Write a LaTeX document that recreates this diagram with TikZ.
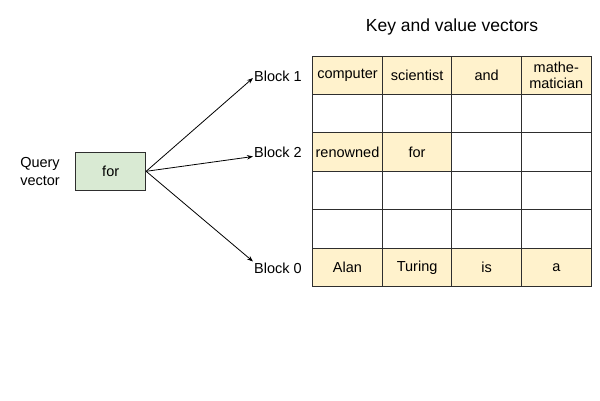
\documentclass[tikz,border=0pt]{standalone}
\usepackage{fontspec}
\setmainfont{Liberation Sans}
\usetikzlibrary{arrows.meta}

\definecolor{keyyellow}{HTML}{FFF2CC}
\definecolor{querygreen}{HTML}{D9EAD3}
\definecolor{gridline}{HTML}{2E2E2E}
\def\cellfont{\fontsize{14.5}{16.5}\selectfont}

\tikzset{
	cell/.style={draw=gridline, line width=0.9pt, minimum width=69.6pt, minimum height=38.45pt, inner sep=0pt, align=center, font=\cellfont},
	keycell/.style={cell, fill=keyyellow},
	blocklabel/.style={anchor=west, inner sep=1pt, font=\cellfont},
	pointer/.style={-{Stealth[length=6pt,width=4.5pt]}, line width=0.8pt}
}

\begin{document}
\begin{tikzpicture}[x=1pt, y=-1pt]
			%%%%% START %%%%%
			\useasboundingbox (0, 0) rectangle (600, 400);
			
			\node[font=\fontsize{17.5}{20}\selectfont] (title) at (452, 27) {Key and value vectors};
			
			% block 1
			\foreach \word [count=\c] in {computer, scientist, and, {mathe-\\matician}}
				\node[keycell] (r1c\c) at ({312.7+69.6*(\c-0.5)}, 75.2) {\word};
			
			% block 2
			\node[keycell] (r3c1) at (347.5, 152.1) {renowned};
			\node[keycell] (r3c2) at (417.1, 152.1) {for};
			\node[cell] (r3c3) at (486.7, 152.1) {};
			\node[cell] (r3c4) at (556.3, 152.1) {};
			
			% empty rows
			\foreach \r in {2, 4, 5}
				\foreach \c in {1, ..., 4}
					\node[cell] (r\r c\c) at ({312.7+69.6*(\c-0.5)}, {56+38.45*(\r-0.5)}) {};
			
			% block 0
			\foreach \word [count=\c] in {Alan, Turing, is, a}
				\node[keycell] (r6c\c) at ({312.7+69.6*(\c-0.5)}, 267.5) {\word};
			
			\node[blocklabel] (b1) at (253, 76) {Block 1};
			\node[blocklabel] (b2) at (253, 152.5) {Block 2};
			\node[blocklabel] (b0) at (253, 268) {Block 0};
			
			\node[draw=gridline, line width=0.9pt, fill=querygreen, minimum width=70pt, minimum height=38.7pt, inner sep=0pt, font=\cellfont] (query) at (110.7, 171.3) {for};
			\node[align=center, font=\fontsize{14.5}{18}\selectfont] (qlabel) at (40, 172) {Query\\vector};
			
			\draw[pointer] (query.east) -- ([yshift=-2pt]b1.west);
			\draw[pointer] (query.east) -- ([yshift=-4pt]b2.west);
			\draw[pointer] (query.east) -- (b0.north west);
			
			%%%%% END %%%%%
		\end{tikzpicture}
\end{document}
